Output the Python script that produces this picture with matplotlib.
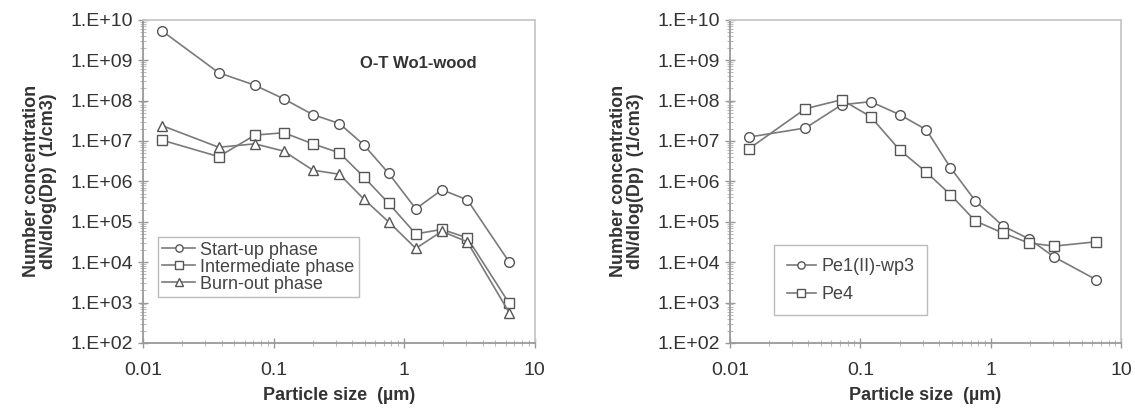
"""
Particle number size distributions, two panels
"""
import numpy as np
import matplotlib
matplotlib.use('Agg')
import matplotlib.pyplot as plt
from matplotlib.ticker import FuncFormatter, LogLocator, NullFormatter

plt.rcParams['font.family'] = ['Liberation Sans', 'DejaVu Sans']

# particle size (um), shared by all series
size = [0.014, 0.038, 0.072, 0.12, 0.20, 0.32, 0.49, 0.76, 1.23, 1.95, 3.05, 6.4]

# left panel: O-T Wo1-wood
startup = [5.3e9, 4.9e8, 2.4e8, 1.1e8, 4.5e7, 2.7e7, 8.1e6, 1.6e6, 2.1e5, 6.2e5, 3.5e5, 1.0e4]
intermediate = [1.05e7, 4.1e6, 1.4e7, 1.6e7, 8.5e6, 5.1e6, 1.3e6, 2.9e5, 5.0e4, 6.5e4, 4.0e4, 9.5e2]
burnout = [2.4e7, 7.0e6, 8.5e6, 5.6e6, 1.9e6, 1.5e6, 3.7e5, 1.0e5, 2.2e4, 5.8e4, 3.2e4, 5.6e2]

# right panel
pe1 = [1.25e7, 2.1e7, 7.9e7, 9.4e7, 4.5e7, 1.9e7, 2.2e6, 3.3e5, 8.0e4, 3.8e4, 1.35e4, 3.7e3]
pe4 = [6.4e6, 6.3e7, 1.05e8, 4.0e7, 6.0e6, 1.7e6, 4.7e5, 1.05e5, 5.3e4, 3.0e4, 2.5e4, 3.2e4]

line_col = '#7a7a7a'
mk_col = '#555555'
fs = 14

fig = plt.figure(figsize=(11.35, 4.17), dpi=100)
ax1 = fig.add_axes([0.126, 0.1775, 0.345, 0.775])
ax2 = fig.add_axes([0.643, 0.1775, 0.345, 0.775])


def style(ax):
    ax.set_xscale('log')
    ax.set_yscale('log')
    ax.set_xlim(0.01, 10)
    ax.set_ylim(1e2, 1e10)
    ax.set_yticks([10.0**k for k in range(2, 11)])
    ax.yaxis.set_major_formatter(FuncFormatter(lambda v, p: '1.E+%02d' % round(np.log10(v))))
    ax.xaxis.set_major_formatter(FuncFormatter(lambda v, p: '%g' % v))
    ax.yaxis.set_minor_locator(LogLocator(base=10, subs=np.arange(2, 10), numticks=20))
    ax.xaxis.set_minor_locator(LogLocator(base=10, subs=np.arange(2, 10), numticks=20))
    ax.yaxis.set_minor_formatter(NullFormatter())
    ax.xaxis.set_minor_formatter(NullFormatter())
    ax.tick_params(which='major', direction='inout', length=7, width=1, color='#999999',
                   labelsize=fs, labelcolor='#333333')
    ax.tick_params(which='minor', direction='inout', length=4, width=0.8, color='#bbbbbb')
    ax.tick_params(axis='x', which='major', pad=10)
    for s in ['left', 'bottom']:
        ax.spines[s].set_color('#999999')
        ax.spines[s].set_linewidth(1.3)
    for s in ['top', 'right']:
        ax.spines[s].set_color('#c8c8c8')
        ax.spines[s].set_linewidth(1.3)
    ax.set_xlabel('Particle size  (µm)', fontsize=13, fontweight='bold', color='#333333', labelpad=6)
    ax.set_ylabel('Number concentration\ndN/dlog(Dp)  (1/cm3)', fontsize=13, fontweight='bold',
                  color='#333333', labelpad=10, linespacing=1.0)


def series(ax, y, marker, label):
    ax.plot(size, y, color=line_col, lw=1.2, marker=marker, markersize=7,
            markerfacecolor='white', markeredgecolor=mk_col, markeredgewidth=1.0, label=label)


style(ax1)
series(ax1, startup, 'o', 'Start-up phase')
series(ax1, intermediate, 's', 'Intermediate phase')
series(ax1, burnout, '^', 'Burn-out phase')
ax1.text(0.555, 0.865, 'O-T Wo1-wood', transform=ax1.transAxes, fontsize=12,
         fontweight='bold', color='#333333', va='center')
leg1 = ax1.legend(loc='upper left', bbox_to_anchor=(0.015, 0.355), fontsize=13, handlelength=1.8,
                  labelspacing=0.0, handletextpad=0.3, borderpad=0.25, fancybox=False,
                  markerscale=0.75, frameon=True)
leg1.get_frame().set_edgecolor('#aaaaaa')
for t in leg1.get_texts():
    t.set_color('#444444')

style(ax2)
series(ax2, pe1, 'o', 'Pe1(II)-wp3')
series(ax2, pe4, 's', 'Pe4')
leg2 = ax2.legend(loc='upper left', bbox_to_anchor=(0.09, 0.33), fontsize=13, handlelength=1.6,
                  labelspacing=0.6, handletextpad=0.3, borderpad=0.7, fancybox=False,
                  markerscale=0.75, frameon=True)
leg2.get_frame().set_edgecolor('#aaaaaa')
for t in leg2.get_texts():
    t.set_color('#444444')

fig.savefig('out.png', dpi=100)
